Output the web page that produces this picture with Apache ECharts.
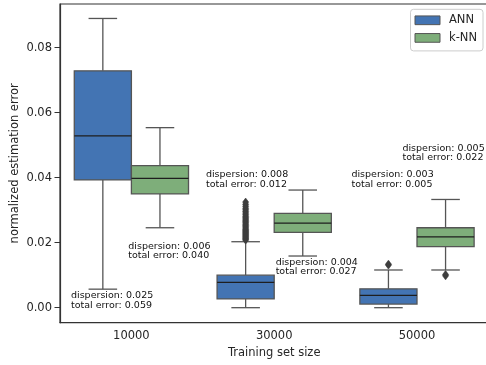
<!DOCTYPE html>
<html>
<head>
<meta charset="utf-8">
<script src="https://cdn.jsdelivr.net/npm/echarts@6/dist/echarts.min.js"></script>
<style>
  html, body { margin: 0; padding: 0; background: #fff; }
  #chart { width: 486px; height: 365px; }
</style>
</head>
<body>
<div id="chart"></div>
<script>
// Training set sizes on the x axis
const categories = ['10000', '30000', '50000'];
const seriesNames = ['ANN', 'k-NN'];

// Box statistics per training set size: [lower whisker, Q1, median, Q3, upper whisker]
const annStats = [
  [0.0057, 0.0393, 0.0529, 0.0729, 0.0890],
  [0.0000, 0.0027, 0.0078, 0.0100, 0.0203],
  [0.0000, 0.0011, 0.0038, 0.0058, 0.0116]
];
const knnStats = [
  [0.0246, 0.0350, 0.0398, 0.0437, 0.0554],
  [0.0159, 0.0232, 0.0260, 0.0290, 0.0362],
  [0.0116, 0.0188, 0.0218, 0.0246, 0.0333]
];

// Fliers beyond the whiskers, per training set size
const annOutliers = [
  [],
  [0.0208, 0.0211, 0.0214, 0.0217, 0.0220, 0.0223, 0.0226, 0.0229, 0.0232, 0.0235,
   0.0238, 0.0241, 0.0245, 0.0249, 0.0253, 0.0257, 0.0261, 0.0265, 0.0269, 0.0273,
   0.0277, 0.0281, 0.0286, 0.0291, 0.0296, 0.0301, 0.0306, 0.0312, 0.0318, 0.0325],
  [0.0131, 0.0134]
];
const knnOutliers = [
  [],
  [],
  [0.0098, 0.0102]
];

// Summary figures printed next to each box
const annDispersion = ['0.025', '0.008', '0.003'];
const annTotalError = ['0.059', '0.012', '0.005'];
const knnDispersion = ['0.006', '0.004', '0.005'];
const knnTotalError = ['0.040', '0.027', '0.022'];

// y tick values
const yTicks = [0, 0.02, 0.04, 0.06, 0.08];

const COLORS = ['#4374b3', '#7eae7a'];
const EDGE = '#555555';
const FONT = 'DejaVu Sans';
const TEXT = '#262626';

// where each summary block sits: [category, offset in bands, y value of first line]
const annLabelPos = [[0, -0.423, 0.00369], [1, -0.478, 0.04083], [2, -0.459, 0.04083]];
const knnLabelPos = [[0, -0.022, 0.01889], [1, 0.010, 0.01385], [2, -0.102, 0.04898]];

function boxData(stats) {
  return stats.map((s, i) => [i].concat(s));
}
function outlierData(list) {
  const out = [];
  list.forEach((vals, i) => vals.forEach(v => out.push([i, v])));
  return out;
}

function renderBox(offsetFrac) {
  return function (params, api) {
    const cat = api.value(0);
    const band = api.size([1, 0])[0];
    const cx = api.coord([cat, 0])[0] + offsetFrac * band;
    const w = band * 0.4;
    const capW = w / 2;
    const y = k => api.coord([cat, api.value(k)])[1];
    const low = y(1), q1 = y(2), med = y(3), q3 = y(4), high = y(5);
    const lineStyle = { stroke: EDGE, lineWidth: 1.3, fill: null };
    return {
      type: 'group',
      children: [
        { type: 'line', shape: { x1: cx, y1: q3, x2: cx, y2: high }, style: lineStyle },
        { type: 'line', shape: { x1: cx, y1: q1, x2: cx, y2: low }, style: lineStyle },
        { type: 'line', shape: { x1: cx - capW / 2, y1: high, x2: cx + capW / 2, y2: high }, style: lineStyle },
        { type: 'line', shape: { x1: cx - capW / 2, y1: low, x2: cx + capW / 2, y2: low }, style: lineStyle },
        { type: 'rect', shape: { x: cx - w / 2, y: q3, width: w, height: q1 - q3 },
          style: { fill: api.visual('color'), stroke: EDGE, lineWidth: 1.3 } },
        { type: 'line', shape: { x1: cx - w / 2, y1: med, x2: cx + w / 2, y2: med },
          style: { stroke: '#1e1e1e', lineWidth: 1.3 } }
      ]
    };
  };
}

function renderFlier(offsetFrac) {
  return function (params, api) {
    const band = api.size([1, 0])[0];
    const p = api.coord([api.value(0), api.value(1)]);
    const cx = p[0] + offsetFrac * band, cy = p[1];
    const hw = 3, hh = 4;
    return {
      type: 'polygon',
      shape: { points: [[cx, cy - hh], [cx + hw, cy], [cx, cy + hh], [cx - hw, cy]] },
      style: { fill: '#3d3d3d', stroke: '#3d3d3d', lineWidth: 0.6 }
    };
  };
}

function labelData(pos, disp, total) {
  return pos.map((p, i) => [p[0], p[2], p[1], 'dispersion: ' + disp[i] + '\ntotal error: ' + total[i]]);
}

function renderLabel(params, api) {
  const band = api.size([1, 0])[0];
  const p = api.coord([api.value(0), api.value(1)]);
  const item = params.dataIndex;
  const row = params.seriesIndex === 4 ? annLabels[item] : knnLabels[item];
  return {
    type: 'text',
    x: p[0] + api.value(2) * band,
    y: p[1] - 4.9,
    style: {
      text: row[3],
      fill: '#111',
      font: '9.5px "DejaVu Sans"',
      lineHeight: 9.5,
      verticalAlign: 'top',
      align: 'left'
    }
  };
}

const annLabels = labelData(annLabelPos, annDispersion, annTotalError);
const knnLabels = labelData(knnLabelPos, knnDispersion, knnTotalError);

const chart = echarts.init(document.getElementById('chart'), null, { renderer: 'canvas' });

chart.setOption({
  animation: false,
  textStyle: { fontFamily: FONT },
  grid: {
    left: 60, top: 4, width: 428.4, height: 318.7,
    outerBoundsMode: 'none',
    containLabel: false,
    show: true, borderColor: '#333', borderWidth: 1.2, backgroundColor: 'transparent'
  },
  legend: {
    orient: 'vertical',
    left: 410.5, top: 9.3,
    padding: [5, 6, 7, 4],
    itemWidth: 25, itemHeight: 8.7,
    itemGap: 5.6,
    icon: 'rect',
    backgroundColor: 'rgba(255,255,255,0.8)',
    borderColor: '#cccccc', borderWidth: 1, borderRadius: 3,
    textStyle: { fontFamily: FONT, fontSize: 11.5, color: TEXT, lineHeight: 12, padding: [0, 0, 0, 4] },
    data: seriesNames.map(n => ({ name: n, itemStyle: { borderColor: EDGE, borderWidth: 1 } }))
  },
  xAxis: {
    type: 'category',
    data: categories,
    boundaryGap: true,
    name: 'Training set size',
    nameLocation: 'middle',
    nameGap: 24,
    nameMoveOverlap: false,
    nameTextStyle: { fontFamily: FONT, fontSize: 11.5, color: TEXT },
    axisLine: { onZero: false, lineStyle: { color: '#333', width: 1.2 } },
    axisTick: { alignWithLabel: true, length: 5.5, lineStyle: { color: '#333', width: 1 } },
    axisLabel: { margin: 7, fontFamily: FONT, fontSize: 11.5, color: TEXT },
    splitLine: { show: false }
  },
  yAxis: {
    type: 'value',
    min: -0.00462,
    max: 0.09345,
    name: 'normalized estimation error',
    nameLocation: 'middle',
    nameGap: 45,
    nameMoveOverlap: false,
    nameTextStyle: { fontFamily: FONT, fontSize: 11.5, color: TEXT, verticalAlign: 'middle' },
    axisLine: { show: true, onZero: false, lineStyle: { color: '#333', width: 1.2 } },
    axisTick: { show: true, length: 5.5, customValues: yTicks, lineStyle: { color: '#333', width: 1 } },
    axisLabel: {
      margin: 8, fontFamily: FONT, fontSize: 11.5, color: TEXT,
      customValues: yTicks,
      formatter: v => v.toFixed(2)
    },
    splitLine: { show: false }
  },
  series: [
    { name: 'ANN', type: 'custom', renderItem: renderBox(-0.2), itemStyle: { color: COLORS[0] },
      encode: { x: 0, y: [1, 2, 3, 4, 5] }, data: boxData(annStats), z: 2 },
    { name: 'k-NN', type: 'custom', renderItem: renderBox(0.2), itemStyle: { color: COLORS[1] },
      encode: { x: 0, y: [1, 2, 3, 4, 5] }, data: boxData(knnStats), z: 2 },
    { name: 'ANN', type: 'custom', renderItem: renderFlier(-0.2), itemStyle: { color: COLORS[0] },
      encode: { x: 0, y: 1 }, data: outlierData(annOutliers), z: 3 },
    { name: 'k-NN', type: 'custom', renderItem: renderFlier(0.2), itemStyle: { color: COLORS[1] },
      encode: { x: 0, y: 1 }, data: outlierData(knnOutliers), z: 3 },
    { type: 'custom', renderItem: renderLabel, encode: { x: 0, y: 1 },
      data: annLabels.map(r => [r[0], r[1], r[2]]), z: 4 },
    { type: 'custom', renderItem: renderLabel, encode: { x: 0, y: 1 },
      data: knnLabels.map(r => [r[0], r[1], r[2]]), z: 4 }
  ]
});
</script>
</body>
</html>
